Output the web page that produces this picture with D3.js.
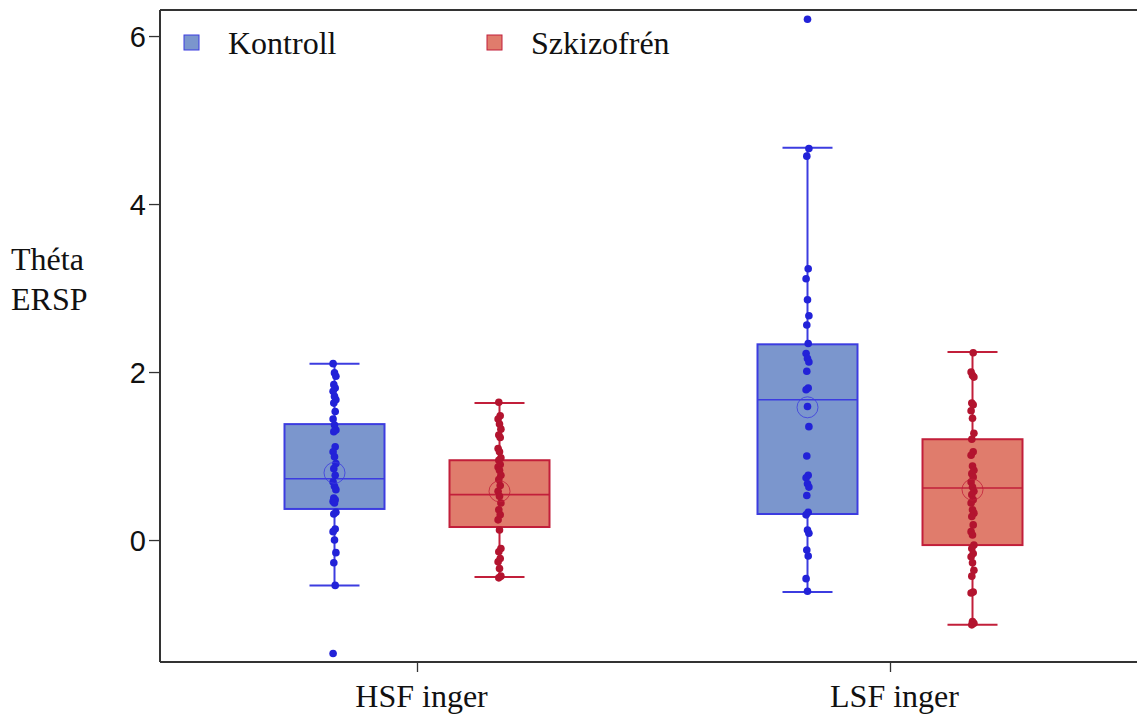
<!DOCTYPE html>
<html>
<head>
<meta charset="utf-8">
<script src="https://cdn.jsdelivr.net/npm/d3@7"></script>
<style>
  html, body { margin: 0; padding: 0; background: #fff; }
  svg { display: block; }
</style>
</head>
<body>
<svg id="chart" width="1138" height="716"></svg>
<script>
// Stimulus conditions and participant groups
const conditions = ["HSF inger", "LSF inger"];
const groups = ["Kontroll", "Szkizofrén"];
const yTicks = [0, 2, 4, 6];

// Box summaries: [lower whisker, Q1, median, Q3, upper whisker, mean]
const hsfKontrollStats   = [-0.54, 0.37, 0.73, 1.38, 2.10, 0.80];
const hsfSzkizofrenStats = [-0.44, 0.155, 0.54, 0.95, 1.63, 0.58];
const lsfKontrollStats   = [-0.62, 0.31, 1.67, 2.33, 4.67, 1.58];
const lsfSzkizofrenStats = [-1.01, -0.06, 0.62, 1.20, 2.24, 0.60];

// Individual participant values
const hsfKontroll = [2.10, 1.99, 1.95, 1.85, 1.81, 1.77, 1.71, 1.67, 1.63, 1.53, 1.44, 1.37,
  1.31, 1.29, 1.11, 1.05, 0.99, 0.91, 0.85, 0.77, 0.69, 0.64, 0.60, 0.50, 0.48, 0.46, 0.44,
  0.33, 0.31, 0.13, 0.10, 0.0, -0.15, -0.27, -0.54, -1.35];
const hsfSzkizofren = [1.64, 1.48, 1.44, 1.38, 1.32, 1.25, 1.22, 1.09, 1.05, 0.98, 0.95, 0.90,
  0.87, 0.83, 0.77, 0.72, 0.65, 0.58, 0.52, 0.44, 0.36, 0.30, 0.24, 0.12, -0.10, -0.14,
  -0.22, -0.26, -0.34, -0.43, -0.45];
const lsfKontroll = [6.20, 4.66, 4.57, 3.23, 3.11, 2.86, 2.67, 2.56, 2.34, 2.22, 2.16, 2.12,
  2.01, 1.81, 1.79, 1.59, 1.35, 1.00, 0.77, 0.74, 0.67, 0.63, 0.53, 0.33, 0.30, 0.12, 0.08,
  -0.12, -0.19, -0.46, -0.61];
const lsfSzkizofren = [2.23, 2.00, 1.96, 1.94, 1.63, 1.61, 1.54, 1.45, 1.27, 1.20, 1.05, 1.01,
  0.88, 0.83, 0.79, 0.75, 0.69, 0.63, 0.58, 0.54, 0.48, 0.44, 0.36, 0.32, 0.28, 0.18, 0.10,
  0.06, -0.06, -0.10, -0.16, -0.20, -0.27, -0.36, -0.43, -0.62, -0.63, -0.97, -0.99, -1.01];

const series = [
  { cond: "HSF inger", group: "Kontroll",   stats: hsfKontrollStats,   values: hsfKontroll },
  { cond: "HSF inger", group: "Szkizofrén", stats: hsfSzkizofrenStats, values: hsfSzkizofren },
  { cond: "LSF inger", group: "Kontroll",   stats: lsfKontrollStats,   values: lsfKontroll },
  { cond: "LSF inger", group: "Szkizofrén", stats: lsfSzkizofrenStats, values: lsfSzkizofren }
];

const palette = {
  "Kontroll":   { fill: "#7b96cd", stroke: "#3c3ce0", point: "#2222d8" },
  "Szkizofrén": { fill: "#e07c6c", stroke: "#c21f3a", point: "#b3142f" }
};

const svg = d3.select("#chart");
const plotLeft = 160, plotRight = 1137, plotTop = 10, plotBottom = 662;

const y = d3.scaleLinear().domain([-1.452, 6.31]).range([plotBottom, plotTop]);
const x = d3.scalePoint().domain(conditions).range([417, 890]);
const xInner = d3.scaleBand().domain(groups).range([-165, 165]);
const boxW = 100, capW = 50;
const serif = "Liberation Serif, Times New Roman, serif";

// Top frame line
svg.append("line").attr("x1", plotLeft).attr("x2", plotRight).attr("y1", plotTop).attr("y2", plotTop)
  .attr("stroke", "#333").attr("stroke-width", 2);

// Y axis
const yAxis = svg.append("g").attr("transform", `translate(${plotLeft},0)`)
  .call(d3.axisLeft(y).tickValues(yTicks).tickSize(11).tickPadding(3).tickFormat(d3.format("d")));
yAxis.select(".domain").attr("stroke", "#333").attr("stroke-width", 2)
  .attr("d", `M0,${plotTop}V${plotBottom}`);
yAxis.selectAll(".tick line").attr("stroke", "#333").attr("stroke-width", 1.3);
yAxis.selectAll(".tick text").attr("font-family", "Liberation Sans, Arial, sans-serif")
  .attr("font-size", 29).attr("fill", "#111").attr("dy", "0.36em");

// X axis
const xAxis = svg.append("g").attr("transform", `translate(0,${plotBottom})`)
  .call(d3.axisBottom(x).tickSize(10).tickPadding(12));
xAxis.select(".domain").attr("stroke", "#333").attr("stroke-width", 2)
  .attr("d", `M${plotLeft},0H${plotRight}`);
xAxis.selectAll(".tick line").attr("stroke", "#333").attr("stroke-width", 1.3);
xAxis.selectAll(".tick text").attr("font-family", serif)
  .attr("font-size", 32).attr("fill", "#111").attr("dx", 4);

// Y axis title
const yTitle = svg.append("text").attr("font-family", serif)
  .attr("font-size", 32).attr("fill", "#111");
yTitle.append("tspan").attr("x", 11).attr("y", 270).text("Théta");
yTitle.append("tspan").attr("x", 11).attr("y", 310).text("ERSP");

// Boxes, whiskers, means and points
series.forEach((s, si) => {
  const cx = x(s.cond) + xInner(s.group) + xInner.bandwidth() / 2;
  const c = palette[s.group];
  const [lo, q1, med, q3, hi, mean] = s.stats;
  const g = svg.append("g");

  g.append("line").attr("x1", cx).attr("x2", cx).attr("y1", y(hi)).attr("y2", y(q3))
    .attr("stroke", c.stroke).attr("stroke-width", 2);
  g.append("line").attr("x1", cx).attr("x2", cx).attr("y1", y(q1)).attr("y2", y(lo))
    .attr("stroke", c.stroke).attr("stroke-width", 2);
  [lo, hi].forEach(v => {
    g.append("line").attr("x1", cx - capW / 2).attr("x2", cx + capW / 2)
      .attr("y1", y(v)).attr("y2", y(v)).attr("stroke", c.stroke).attr("stroke-width", 2);
  });
  g.append("rect").attr("x", cx - boxW / 2).attr("width", boxW)
    .attr("y", y(q3)).attr("height", y(q1) - y(q3))
    .attr("fill", c.fill).attr("stroke", c.stroke).attr("stroke-width", 2);
  g.append("line").attr("x1", cx - boxW / 2).attr("x2", cx + boxW / 2)
    .attr("y1", y(med)).attr("y2", y(med)).attr("stroke", c.stroke).attr("stroke-width", 1.6);

  g.selectAll("circle.pt").data(s.values).join("circle").attr("class", "pt")
    .attr("cx", (d, i) => cx + ((i * 7 + si) % 5 - 2) * 0.7)
    .attr("cy", d => y(d)).attr("r", 3.8).attr("fill", c.point);

  g.append("circle").attr("cx", cx).attr("cy", y(mean)).attr("r", 10.5)
    .attr("fill", "none").attr("stroke", c.stroke).attr("stroke-width", 1).attr("opacity", 0.8);
});

// Legend
const legend = svg.append("g");
const legendX = [184, 487];
groups.forEach((gname, i) => {
  const c = palette[gname];
  legend.append("rect").attr("x", legendX[i]).attr("y", 35).attr("width", 15).attr("height", 15)
    .attr("fill", c.fill).attr("stroke", c.stroke).attr("stroke-width", 1);
  legend.append("text").attr("x", legendX[i] + 44).attr("y", 54)
    .attr("font-family", serif)
    .attr("font-size", 32).attr("fill", "#111").text(gname);
});
</script>
</body>
</html>
